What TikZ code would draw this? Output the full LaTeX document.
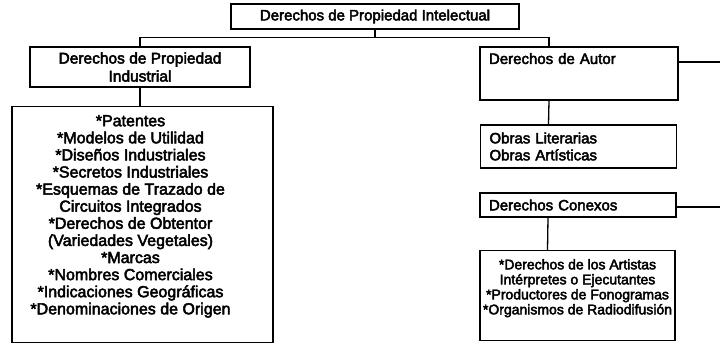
\documentclass[tikz,border=0pt]{standalone}
\usepackage{fontspec}
\setmainfont{Liberation Sans}[FakeBold=3]
\usetikzlibrary{calc}
\usetikzlibrary{positioning}

\tikzset{
    caja/.style={draw,line width=1.3pt,inner sep=0pt,font=\fontsize{15}{17}\selectfont},
    cajaizq/.style={caja,align=left,text width=#1,inner xsep=9pt},
    marco/.style={draw,line width=1.3pt,inner sep=0pt,anchor=north},
    lista/.style={align=center,anchor=north,inner sep=0pt},
    enlace/.style={line width=1.3pt},
}

\begin{document}
\begin{tikzpicture}[x=1pt,y=1pt]
    \useasboundingbox (0,0) rectangle (720,-345);
    % nivel superior
    \node[caja,minimum width=288,minimum height=25] (dpi) at (375,-16.5)
        {Derechos de Propiedad Intelectual};
    % segundo nivel
    \node[caja,align=center,minimum width=220,minimum height=40,
          font=\fontsize{15.5}{18}\selectfont] (dind) at (140,-67)
        {Derechos de Propiedad\\Industrial};
    \node[cajaizq=180,minimum height=53,text depth=30pt] (dautor) at (579,-73.5)
        {Derechos de Autor};
    % listas
    \node[marco,minimum width=261,minimum height=236] (lind) at (142.5,-106) {};
    \node[lista,font=\fontsize{16}{17.1}\selectfont] (lindtexto) at ([xshift=-12,yshift=-9]lind.north)
        {*Patentes\\*Modelos de Utilidad\\*Diseños Industriales\\*Secretos Industriales\\*Esquemas de Trazado de\\Circuitos Integrados\\*Derechos de Obtentor\\(Variedades Vegetales)\\*Marcas\\*Nombres Comerciales\\*Indicaciones Geográficas\\*Denominaciones de Origen};
    \node[cajaizq=178,minimum height=43] (obras) at (578.5,-146.5)
        {Obras Literarias\\Obras Artísticas};
    \node[cajaizq=178,minimum height=24] (dcon) at (578,-205)
        {Derechos Conexos};
    \node[marco,minimum width=195,minimum height=90] (lcon) at (577.5,-250) {};
    \node[lista,font=\fontsize{14}{15}\selectfont] (lcontexto) at ([yshift=-9]lcon.north)
        {*Derechos de los Artistas\\Intérpretes o Ejecutantes\\*Productores de Fonogramas\\*Organismos de Radiodifusión};
    % conexiones
    \coordinate (bus) at ($(dpi.south)+(0,-8)$);
    \coordinate (borde1) at (720,-62);
    \coordinate (borde2) at (720,-207);
    \draw[enlace] (dpi.south) -- (bus) -| (dind.north);
    \draw[enlace] (bus) -| ([xshift=-30]dautor.north);
    \draw[enlace] ([xshift=-30]dautor.south) -- ([xshift=-30]obras.north);
    \draw[enlace] ([xshift=-30]dcon.south) -- ([xshift=-30]lcon.north);
    \draw[enlace] (dind.south) -- (dind.south |- lind.north);
    \draw[enlace] (dautor.east |- borde1) -- (borde1);
    \draw[enlace] (dcon.east |- borde2) -- (borde2);
\end{tikzpicture}
\end{document}
